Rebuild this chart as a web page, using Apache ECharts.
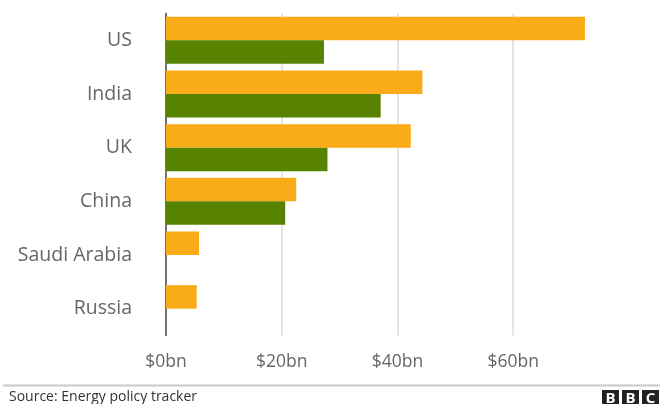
<!DOCTYPE html>
<html>
<head>
<meta charset="utf-8">
<script src="https://cdn.jsdelivr.net/npm/echarts@6/dist/echarts.min.js"></script>
<style>
  html, body { margin: 0; padding: 0; background: #fff; }
  #chart { width: 660px; height: 404px; }
</style>
</head>
<body>
<div id="chart"></div>
<script>
// countries, top to bottom
const countries = ["US", "India", "UK", "China", "Saudi Arabia", "Russia"];
// $bn
const fossilValues = [72.4, 44.3, 42.3, 22.5, 5.7, 5.3];
const cleanValues = [27.3, 37.1, 27.9, 20.6, 0, 0];
const xTicks = [0, 20, 40, 60];

const FONT = "Open Sans";
const GREY = "#666";

const chart = echarts.init(document.getElementById("chart"));

const option = {
  animation: false,
  grid: { left: 166, right: 60, top: 13.5, height: 322 },
  xAxis: {
    type: "value",
    min: 0,
    max: 75,
    interval: 20,
    axisLine: { show: false },
    axisTick: { show: false },
    axisLabel: {
      margin: 18,
      color: GREY,
      fontFamily: FONT,
      fontSize: 17.5,
      showMaxLabel: false,
      // only the $20bn steps carry a label
      formatter: (v) => (xTicks.includes(v) ? "$" + v + "bn" : ""),
    },
    splitLine: {
      showMinLine: false,
      showMaxLine: false,
      lineStyle: { color: "#dcdcdc", width: 1.5 },
    },
  },
  yAxis: {
    type: "category",
    inverse: true,
    data: countries,
    axisTick: { show: false },
    axisLine: { lineStyle: { color: "#444", width: 1.5 } },
    axisLabel: {
      margin: 34,
      color: GREY,
      fontFamily: FONT,
      fontSize: 19.5,
    },
  },
  series: [
    {
      name: "Fossil fuels",
      type: "bar",
      data: fossilValues,
      barWidth: 23.5,
      barGap: "0%",
      itemStyle: { color: "#FAAB18" },
    },
    {
      name: "Clean energy",
      type: "bar",
      data: cleanValues,
      barWidth: 23.5,
      itemStyle: { color: "#588300" },
    },
  ],
  graphic: [
    // footer rule
    {
      type: "rect",
      shape: { x: 3, y: 384.5, width: 660, height: 2 },
      style: { fill: "#c8c8c8" },
    },
    {
      type: "text",
      left: 9,
      top: 390,
      style: {
        text: "Source: Energy policy tracker",
        fill: "#333",
        font: "14px 'Liberation Sans Narrow', 'Open Sans'",
      },
    },
    // BBC blocks
    ...["B", "B", "C"].map((ch, i) => ({
      type: "group",
      left: 602 + i * 20,
      top: 390,
      children: [
        { type: "rect", shape: { x: 0, y: 0, width: 17, height: 17 }, style: { fill: "#222" } },
        {
          type: "text",
          style: {
            text: ch,
            x: 8.5,
            y: 9,
            align: "center",
            verticalAlign: "middle",
            fill: "#fff",
            font: "bold 15px 'Open Sans'",
          },
        },
      ],
    })),
  ],
};

chart.setOption(option);
</script>
</body>
</html>
